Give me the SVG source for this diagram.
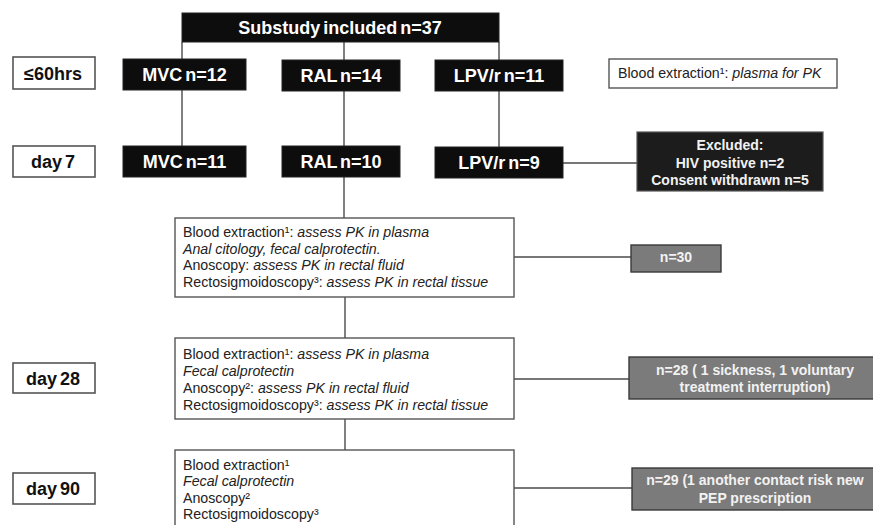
<svg xmlns="http://www.w3.org/2000/svg" width="873" height="525" viewBox="0 0 873 525">
<style>
.bg{fill:#ffffff}
.blk{fill:#0d0d0d;stroke:#222;stroke-width:1}
.lab{fill:#ffffff;stroke:#555;stroke-width:1.6}
.box{fill:#ffffff;stroke:#555;stroke-width:1.4}
.gry{fill:#7b7b7b;stroke:#3a3a3a;stroke-width:1.4}
.exc{fill:#1c1c1c;stroke:#555;stroke-width:1.2}
.wt{font-family:"Liberation Sans",Arial,sans-serif;font-weight:bold;font-size:18px;fill:#ffffff;text-anchor:middle;word-spacing:-2px}
.lt{font-family:"Liberation Sans",Arial,sans-serif;font-weight:bold;font-size:18px;fill:#111;text-anchor:middle;word-spacing:-2px}
.st{font-family:"Liberation Sans",Arial,sans-serif;font-weight:bold;font-size:14px;fill:#f2f2f2;text-anchor:middle}
.tx{font-family:"Liberation Sans",Arial,sans-serif;font-size:14.2px;fill:#222}
.it{font-style:italic}
.conn line{stroke:#4a4a4a;stroke-width:1.4}
</style>
<rect class="bg" x="0" y="0" width="873" height="525"/>
<g class="conn" id="connectors">
<line x1="182" y1="42" x2="182" y2="146"/>
<line x1="344" y1="42" x2="344" y2="146"/>
<line x1="499" y1="42" x2="499" y2="147"/>
<line x1="344" y1="177" x2="344" y2="218"/>
<line x1="563" y1="163" x2="637" y2="163"/>
<line x1="345" y1="297" x2="345" y2="338"/>
<line x1="345" y1="419" x2="345" y2="450"/>
<line x1="514" y1="257" x2="631" y2="257"/>
<line x1="514" y1="379" x2="629" y2="379"/>
<line x1="514" y1="488" x2="632" y2="488"/>
</g>
<g id="top">
<rect class="blk" x="182" y="13" width="317" height="29"/>
<text class="wt" x="340" y="34">Substudy included n=37</text>
</g>
<g id="lab60">
<rect class="lab" x="13" y="57" width="82" height="32"/>
<text class="lt" x="53" y="79.5">≤60hrs</text>
</g>
<g id="mvc12">
<rect class="blk" x="123" y="59" width="123" height="31"/>
<text class="wt" x="184.5" y="81">MVC n=12</text>
</g>
<g id="ral14">
<rect class="blk" x="282" y="60" width="118" height="31"/>
<text class="wt" x="341" y="81.5">RAL n=14</text>
</g>
<g id="lpv11">
<rect class="blk" x="435" y="60" width="128" height="31"/>
<text class="wt" x="499" y="81.5">LPV/r n=11</text>
</g>
<g id="blood0">
<rect class="box" x="609" y="59" width="228" height="29"/>
<text class="tx" x="618" y="78">Blood extraction¹: <tspan class="it">plasma for PK</tspan></text>
</g>
<g id="lab7">
<rect class="lab" x="13" y="146" width="82" height="31"/>
<text class="lt" x="53" y="168">day 7</text>
</g>
<g id="mvc11">
<rect class="blk" x="123" y="146" width="123" height="31"/>
<text class="wt" x="184.5" y="168">MVC n=11</text>
</g>
<g id="ral10">
<rect class="blk" x="282" y="146" width="118" height="31"/>
<text class="wt" x="341" y="168">RAL n=10</text>
</g>
<g id="lpv9">
<rect class="blk" x="435" y="147" width="128" height="31"/>
<text class="wt" x="499" y="169">LPV/r n=9</text>
</g>
<g id="excluded">
<rect class="exc" x="637" y="132" width="186" height="59"/>
<text class="st" x="730" y="150">Excluded:</text>
<text class="st" x="730" y="168">HIV positive n=2</text>
<text class="st" x="730" y="185">Consent withdrawn n=5</text>
</g>
<g id="exam7">
<rect class="box" x="175" y="218" width="339" height="79"/>
<text class="tx" x="183" y="237">Blood extraction¹: <tspan class="it">assess PK in plasma</tspan></text>
<text class="tx it" x="183" y="254">Anal citology, fecal calprotectin.</text>
<text class="tx" x="183" y="270">Anoscopy: <tspan class="it">assess PK in rectal fluid</tspan></text>
<text class="tx" x="183" y="287">Rectosigmoidoscopy³: <tspan class="it">assess PK in rectal tissue</tspan></text>
</g>
<g id="n30">
<rect class="gry" x="631" y="245" width="90" height="27"/>
<text class="st" x="676" y="262">n=30</text>
</g>
<g id="lab28">
<rect class="lab" x="13" y="363" width="82" height="30"/>
<text class="lt" x="53" y="384.5">day 28</text>
</g>
<g id="exam28">
<rect class="box" x="175" y="338" width="339" height="81"/>
<text class="tx" x="183" y="359">Blood extraction¹: <tspan class="it">assess PK in plasma</tspan></text>
<text class="tx it" x="183" y="376">Fecal calprotectin</text>
<text class="tx" x="183" y="393">Anoscopy²: <tspan class="it">assess PK in rectal fluid</tspan></text>
<text class="tx" x="183" y="410">Rectosigmoidoscopy³: <tspan class="it">assess PK in rectal tissue</tspan></text>
</g>
<g id="n28">
<rect class="gry" x="629" y="357" width="250" height="42"/>
<text class="st" x="755" y="375">n=28 ( 1 sickness, 1 voluntary</text>
<text class="st" x="755" y="392">treatment interruption)</text>
</g>
<g id="lab90">
<rect class="lab" x="13" y="473" width="82" height="31"/>
<text class="lt" x="53" y="495">day 90</text>
</g>
<g id="exam90">
<rect class="box" x="175" y="450" width="339" height="90"/>
<text class="tx" x="183" y="470">Blood extraction¹</text>
<text class="tx it" x="183" y="486">Fecal calprotectin</text>
<text class="tx" x="183" y="503">Anoscopy²</text>
<text class="tx" x="183" y="519">Rectosigmoidoscopy³</text>
</g>
<g id="n29">
<rect class="gry" x="632" y="468" width="247" height="42"/>
<text class="st" x="755" y="485">n=29 (1 another contact risk new</text>
<text class="st" x="755" y="503">PEP prescription</text>
</g>
</svg>
